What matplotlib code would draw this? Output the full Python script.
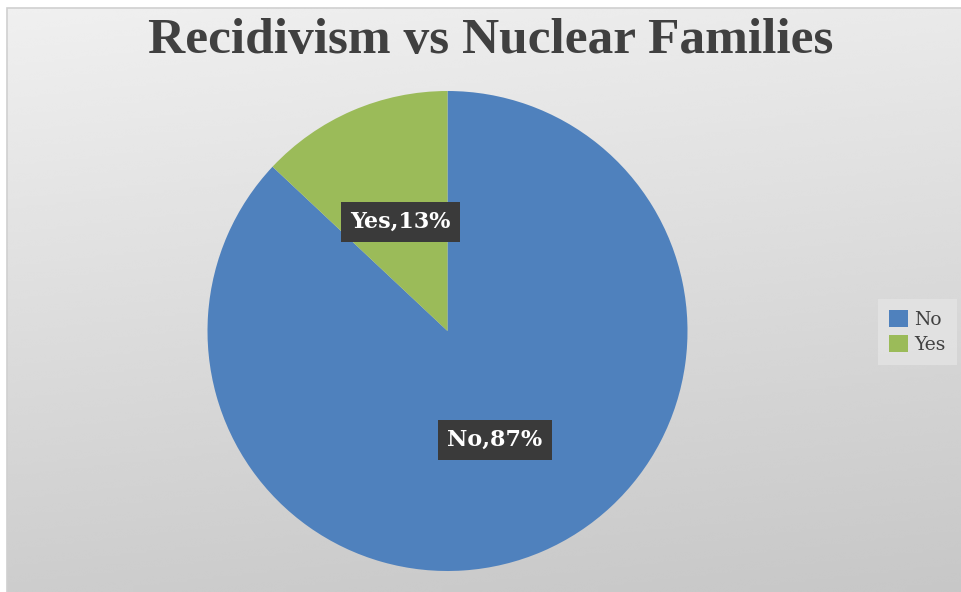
import numpy as np
import matplotlib
matplotlib.use("Agg")
import matplotlib.pyplot as plt
from matplotlib.patches import Rectangle

labels = ["No", "Yes"]
values = [87, 13]
colors = ["#4f81bd", "#9bbb59"]
title = "Recidivism vs Nuclear Families"

W, H = 962, 592
fig = plt.figure(figsize=(W / 100, H / 100), dpi=100)
fig.patch.set_facecolor("white")

# chart area with a soft gray gradient, lighter at the top
bg = fig.add_axes([7 / W, 0, 1 - 7 / W, 1 - 8 / H])
yy, xx = np.mgrid[0:1:200j, 0:1:300j]
t = 0.85 * yy + 0.15 * xx
grad = 0.94 - t * (0.94 - 0.78)
bg.imshow(grad, cmap="gray", vmin=0, vmax=1, aspect="auto",
          extent=[0, 1, 0, 1], origin="upper", interpolation="bicubic")
bg.set_xlim(0, 1)
bg.set_ylim(0, 1)
bg.axis("off")
fig.add_artist(Rectangle((7 / W, -0.01), 1, 1 - 8 / H + 0.01, transform=fig.transFigure,
                         fill=False, edgecolor="#d0d0d0", linewidth=1.2))

fig.text(491 / W, 1 - 53 / H, title, ha="center", va="baseline",
         fontsize=37, fontweight="bold", family="Liberation Serif", color="#404040")

# pie: center (447.5, 331) px, radius 240 px
ax = fig.add_axes([207.5 / W, 21 / H, 480 / W, 480 / H])
wedges, _ = ax.pie(values, colors=colors, startangle=90, counterclock=False,
                   radius=1, wedgeprops=dict(linewidth=0))
ax.set_xlim(-1, 1)
ax.set_ylim(-1, 1)
ax.set_aspect("equal")
ax.axis("off")

for w, lab, v in zip(wedges, labels, values):
    ang = np.deg2rad((w.theta1 + w.theta2) / 2)
    x, y = 0.495 * np.cos(ang), 0.495 * np.sin(ang)
    ax.text(x, y, f"{lab},{v}%", ha="center", va="center", color="white",
            fontsize=16, fontweight="bold", family="DejaVu Serif",
            bbox=dict(boxstyle="square,pad=0.42", facecolor="#3a3a3a", edgecolor="none"))

leg = fig.legend(wedges, labels, loc="center left", bbox_to_anchor=(874 / W, 1 - 332 / H),
                 frameon=True, handlelength=1.0, handleheight=1.0,
                 handletextpad=0.35, labelspacing=0.3, borderpad=0.3,
                 prop=dict(family="DejaVu Serif", size=13.5))
leg.get_frame().set_facecolor("#e4e4e4")
leg.get_frame().set_edgecolor("none")
leg.get_frame().set_boxstyle("square")
for txt in leg.get_texts():
    txt.set_color("#404040")

fig.savefig("out.png", dpi=100)
